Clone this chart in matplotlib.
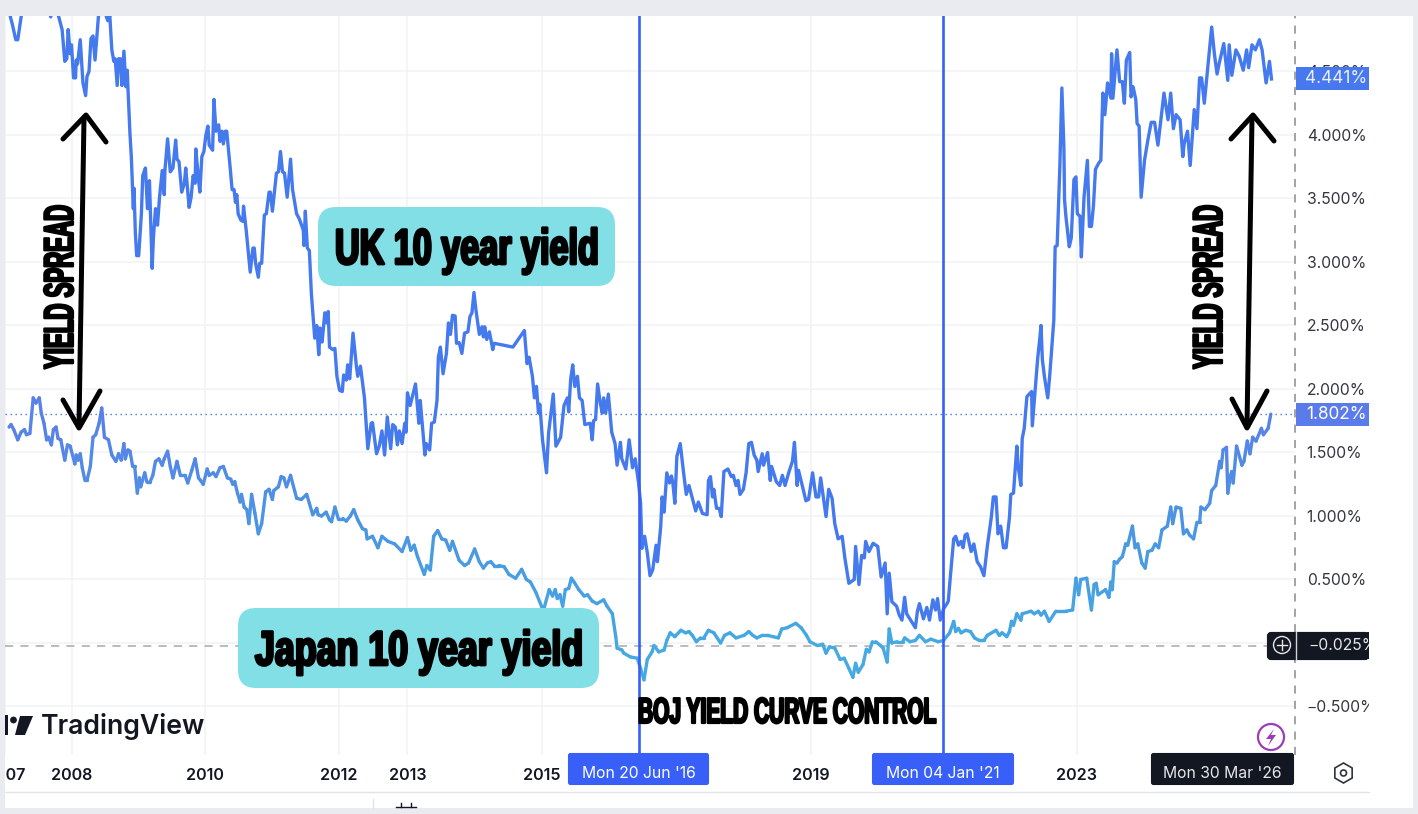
import matplotlib
matplotlib.use("Agg")
import matplotlib.pyplot as plt
import numpy as np
from matplotlib import patheffects
from matplotlib.collections import LineCollection
from matplotlib.colors import LinearSegmentedColormap
from matplotlib.patches import Circle, FancyBboxPatch, Polygon, Rectangle, RegularPolygon
from matplotlib.transforms import Affine2D

# values (year as a decimal, yield in percent)
uk_year = [2007.11, 2007.135, 2007.16, 2007.21, 2007.24, 2007.29, 2007.34, 2007.53, 2007.68, 2007.73, 2007.78,
           2007.85, 2007.90, 2007.94, 2007.97, 2007.99, 2008.02, 2008.04, 2008.07, 2008.10, 2008.11, 2008.13,
           2008.17, 2008.21, 2008.25, 2008.27, 2008.30, 2008.33, 2008.36, 2008.39, 2008.44, 2008.50, 2008.56,
           2008.58, 2008.61, 2008.64, 2008.67, 2008.69, 2008.72, 2008.74, 2008.77, 2008.79, 2008.82, 2008.85,
           2008.87, 2008.88, 2008.91, 2008.93, 2008.96, 2008.97, 2008.99, 2009.01, 2009.04, 2009.08, 2009.10,
           2009.14, 2009.17, 2009.20, 2009.24, 2009.26, 2009.29, 2009.32, 2009.35, 2009.39, 2009.42, 2009.43,
           2009.47, 2009.51, 2009.55, 2009.59, 2009.61, 2009.64, 2009.68, 2009.72, 2009.74, 2009.79, 2009.82,
           2009.85, 2009.88, 2009.89, 2009.93, 2009.95, 2009.98, 2010.01, 2010.04, 2010.07, 2010.09, 2010.14,
           2010.16, 2010.19, 2010.23, 2010.25, 2010.28, 2010.30, 2010.33, 2010.35, 2010.40, 2010.43, 2010.46,
           2010.48, 2010.50, 2010.52, 2010.56, 2010.59, 2010.60, 2010.64, 2010.70, 2010.74, 2010.76, 2010.78,
           2010.82, 2010.84, 2010.87, 2010.91, 2010.94, 2010.98, 2011.00, 2011.03, 2011.09, 2011.12, 2011.15,
           2011.18, 2011.21, 2011.25, 2011.30, 2011.33, 2011.39, 2011.43, 2011.49, 2011.50, 2011.52, 2011.55,
           2011.58, 2011.61, 2011.66, 2011.69, 2011.72, 2011.74, 2011.77, 2011.81, 2011.84, 2011.86, 2011.88,
           2011.93, 2011.96, 2011.99, 2012.03, 2012.07, 2012.09, 2012.13, 2012.15, 2012.18, 2012.23, 2012.28,
           2012.30, 2012.34, 2012.40, 2012.45, 2012.50, 2012.52, 2012.58, 2012.62, 2012.66, 2012.70, 2012.74,
           2012.79, 2012.82, 2012.86, 2012.89, 2012.92, 2012.96, 2013.00, 2013.02, 2013.04, 2013.08, 2013.16,
           2013.21, 2013.23, 2013.30, 2013.32, 2013.37, 2013.40, 2013.44, 2013.48, 2013.50, 2013.53, 2013.57,
           2013.62, 2013.65, 2013.68, 2013.71, 2013.75, 2013.77, 2013.81, 2013.85, 2013.89, 2013.94, 2013.97,
           2014.00, 2014.03, 2014.06, 2014.11, 2014.15, 2014.17, 2014.19, 2014.22, 2014.26, 2014.31, 2014.33,
           2014.61, 2014.78, 2014.82, 2014.85, 2014.90, 2014.93, 2014.96, 2014.99, 2015.01, 2015.05, 2015.11,
           2015.14, 2015.17, 2015.21, 2015.25, 2015.32, 2015.37, 2015.42, 2015.44, 2015.47, 2015.50, 2015.53,
           2015.57, 2015.60, 2015.64, 2015.68, 2015.76, 2015.79, 2015.81, 2015.84, 2015.87, 2015.91, 2015.94,
           2015.96, 2015.99, 2016.03, 2016.08, 2016.13, 2016.16, 2016.21, 2016.23, 2016.29, 2016.34, 2016.39,
           2016.43, 2016.48, 2016.51, 2016.53, 2016.57, 2016.61, 2016.65, 2016.69, 2016.74, 2016.76, 2016.81,
           2016.83, 2016.86, 2016.90, 2016.94, 2016.97, 2016.99, 2017.02, 2017.05, 2017.10, 2017.15, 2017.19,
           2017.23, 2017.28, 2017.33, 2017.37, 2017.43, 2017.50, 2017.52, 2017.55, 2017.58, 2017.60, 2017.64,
           2017.68, 2017.71, 2017.75, 2017.81, 2017.86, 2017.89, 2017.93, 2017.96, 2017.99, 2018.04, 2018.08,
           2018.12, 2018.16, 2018.20, 2018.24, 2018.26, 2018.32, 2018.34, 2018.40, 2018.44, 2018.46, 2018.53,
           2018.58, 2018.62, 2018.66, 2018.72, 2018.77, 2018.80, 2018.84, 2018.86, 2018.93, 2018.97, 2019.01,
           2019.07, 2019.12, 2019.16, 2019.19, 2019.23, 2019.27, 2019.31, 2019.36, 2019.40, 2019.45, 2019.51,
           2019.55, 2019.61, 2019.69, 2019.71, 2019.76, 2019.80, 2019.84, 2019.86, 2019.91, 2019.97, 2020.04,
           2020.09, 2020.15, 2020.18, 2020.21, 2020.25, 2020.32, 2020.36, 2020.40, 2020.44, 2020.47, 2020.54,
           2020.60, 2020.63, 2020.66, 2020.72, 2020.77, 2020.81, 2020.86, 2020.90, 2020.93, 2020.97, 2021.02,
           2021.07, 2021.09, 2021.12, 2021.17, 2021.20, 2021.24, 2021.28, 2021.31, 2021.34, 2021.37, 2021.43,
           2021.47, 2021.52, 2021.57, 2021.62, 2021.67, 2021.73, 2021.76, 2021.80, 2021.83, 2021.87, 2021.91,
           2021.95, 2022.00, 2022.02, 2022.06, 2022.11, 2022.13, 2022.17, 2022.19, 2022.22, 2022.26, 2022.33,
           2022.34, 2022.42, 2022.45, 2022.47, 2022.49, 2022.52, 2022.57, 2022.60, 2022.66, 2022.68, 2022.71,
           2022.75, 2022.78, 2022.81, 2022.82, 2022.84, 2022.89, 2022.92, 2022.96, 2022.99, 2023.01, 2023.05,
           2023.07, 2023.11, 2023.16, 2023.19, 2023.22, 2023.25, 2023.28, 2023.33, 2023.36, 2023.39, 2023.42,
           2023.46, 2023.51, 2023.52, 2023.54, 2023.60, 2023.64, 2023.68, 2023.71, 2023.74, 2023.79, 2023.81,
           2023.84, 2023.88, 2023.90, 2023.93, 2023.96, 2024.01, 2024.06, 2024.11, 2024.16, 2024.21, 2024.30,
           2024.36, 2024.40, 2024.44, 2024.48, 2024.54, 2024.58, 2024.60, 2024.65, 2024.69, 2024.75, 2024.79,
           2024.83, 2024.86, 2024.90, 2024.94, 2024.97, 2025.01, 2025.05, 2025.09, 2025.12, 2025.19, 2025.25,
           2025.27, 2025.31, 2025.37, 2025.42, 2025.48, 2025.53, 2025.56, 2025.61, 2025.66, 2025.72, 2025.76,
           2025.82, 2025.87, 2025.90]
uk_yield = [4.98, 4.92, 4.87, 4.75, 4.75, 4.93, 5.06, 5.09, 5.06, 4.93, 5.04,
            4.93, 4.83, 4.58, 4.60, 4.83, 4.64, 4.71, 4.45, 4.45, 4.59, 4.56,
            4.75, 4.41, 4.31, 4.46, 4.50, 4.76, 4.78, 4.59, 4.93, 5.06, 4.93,
            4.90, 4.94, 4.67, 4.58, 4.60, 4.39, 4.60, 4.60, 4.39, 4.66, 4.38,
            4.51, 4.37, 4.01, 3.83, 3.42, 3.58, 3.23, 3.05, 3.05, 3.38, 3.68,
            3.74, 3.42, 3.64, 2.95, 3.20, 3.42, 3.29, 3.51, 3.72, 3.53, 3.72,
            3.97, 3.71, 3.74, 3.96, 3.81, 3.79, 3.55, 3.62, 3.74, 3.43, 3.51,
            3.68, 3.62, 3.89, 3.65, 3.55, 3.83, 3.87, 4.00, 4.07, 3.92, 3.88,
            4.28, 4.03, 4.08, 3.95, 4.03, 3.93, 4.03, 4.03, 3.75, 3.57, 3.57,
            3.47, 3.53, 3.38, 3.33, 3.32, 3.44, 3.25, 2.92, 3.11, 3.11, 2.99,
            2.88, 2.99, 2.99, 3.37, 3.38, 3.55, 3.55, 3.40, 3.70, 3.71, 3.87,
            3.71, 3.70, 3.51, 3.81, 3.57, 3.38, 3.34, 3.25, 3.13, 3.40, 3.11,
            3.09, 2.75, 2.40, 2.50, 2.27, 2.48, 2.37, 2.60, 2.52, 2.61, 2.33,
            2.31, 2.32, 2.10, 1.99, 1.98, 2.11, 2.07, 2.19, 2.08, 2.44, 2.18,
            2.10, 2.18, 1.93, 1.53, 1.73, 1.735, 1.49, 1.55, 1.67, 1.48, 1.78,
            1.53, 1.72, 1.70, 1.56, 1.67, 1.57, 1.73, 1.66, 1.97, 1.87, 2.04,
            1.73, 1.91, 1.48, 1.57, 1.52, 1.73, 1.74, 1.91, 2.25, 2.33, 2.12,
            2.28, 2.52, 2.43, 2.58, 2.575, 2.36, 2.365, 2.28, 2.44, 2.45, 2.57,
            2.60, 2.76, 2.62, 2.43, 2.49, 2.41, 2.49, 2.39, 2.45, 2.31, 2.36,
            2.33, 2.46, 2.20, 2.25, 2.10, 1.93, 2.02, 1.81, 1.88, 1.60, 1.34,
            1.65, 1.78, 1.96, 1.55, 1.62, 1.87, 1.93, 1.82, 2.08, 2.19, 2.02,
            2.10, 1.93, 1.91, 1.72, 1.73, 1.60, 1.75, 1.76, 2.04, 1.89, 1.81,
            1.93, 1.81, 1.96, 1.66, 1.57, 1.40, 1.58, 1.45, 1.37, 1.60, 1.38,
            1.45, 1.26, 1.10, 0.745, 0.84, 0.71, 0.53, 0.575, 0.77, 0.64, 0.92,
            1.15, 1.03, 1.34, 1.26, 1.315, 1.26, 1.10, 1.47, 1.57, 1.34, 1.17,
            1.24, 1.14, 1.04, 1.11, 1.02, 1.01, 1.28, 1.31, 1.15, 1.21, 1.06,
            1.06, 0.995, 1.35, 1.37, 1.31, 1.32, 1.24, 1.28, 1.17, 1.21, 1.34,
            1.57, 1.58, 1.48, 1.44, 1.35, 1.49, 1.40, 1.50, 1.28, 1.39, 1.27,
            1.24, 1.32, 1.24, 1.35, 1.43, 1.58, 1.24, 1.36, 1.21, 1.12, 1.13,
            1.34, 1.15, 1.15, 1.30, 1.15, 0.995, 1.21, 1.14, 0.94, 0.82, 0.84,
            0.67, 0.47, 0.50, 0.76, 0.46, 0.69, 0.67, 0.80, 0.72, 0.785, 0.76,
            0.52, 0.63, 0.23, 0.55, 0.325, 0.29, 0.22, 0.18, 0.36, 0.23, 0.17,
            0.12, 0.25, 0.31, 0.19, 0.28, 0.18, 0.34, 0.26, 0.35, 0.18, 0.27,
            0.31, 0.33, 0.52, 0.82, 0.84, 0.77, 0.80, 0.75, 0.85, 0.86, 0.72,
            0.78, 0.64, 0.60, 0.53, 0.76, 0.99, 1.15, 1.15, 0.86, 0.92, 0.75,
            0.75, 0.99, 1.17, 1.18, 1.55, 1.39, 1.24, 1.61, 1.69, 1.94, 1.98,
            1.71, 2.24, 2.39, 2.50, 2.23, 2.10, 1.93, 2.11, 2.54, 3.12, 3.13,
            3.75, 4.37, 3.91, 3.49, 3.36, 3.12, 3.19, 3.65, 3.67, 3.38, 3.36,
            3.04, 3.51, 3.80, 3.28, 3.28, 3.44, 3.73, 3.78, 3.80, 4.33, 4.16,
            4.41, 4.29, 4.64, 4.29, 4.67, 4.42, 4.42, 4.25, 4.59, 4.65, 4.30,
            4.38, 4.28, 4.09, 4.07, 3.51, 3.80, 3.96, 4.10, 4.10, 3.92, 4.33,
            4.12, 4.33, 4.05, 4.16, 4.12, 3.83, 3.93, 4.03, 3.76, 4.20, 4.05,
            4.45, 4.45, 4.25, 4.47, 4.63, 4.85, 4.64, 4.48, 4.56, 4.72, 4.43,
            4.71, 4.47, 4.67, 4.62, 4.51, 4.67, 4.53, 4.71, 4.67, 4.75, 4.67,
            4.41, 4.58, 4.441]

japan_year = [2007.11, 2007.14, 2007.18, 2007.24, 2007.29, 2007.34, 2007.37, 2007.42, 2007.47, 2007.51, 2007.56,
              2007.59, 2007.63, 2007.67, 2007.70, 2007.74, 2007.77, 2007.81, 2007.84, 2007.88, 2007.94, 2007.98,
              2008.02, 2008.09, 2008.11, 2008.14, 2008.17, 2008.20, 2008.24, 2008.27, 2008.32, 2008.36, 2008.40,
              2008.45, 2008.49, 2008.53, 2008.59, 2008.64, 2008.70, 2008.74, 2008.78, 2008.82, 2008.84, 2008.88,
              2008.91, 2008.95, 2008.98, 2009.02, 2009.05, 2009.07, 2009.13, 2009.16, 2009.21, 2009.25, 2009.29,
              2009.34, 2009.39, 2009.42, 2009.47, 2009.51, 2009.55, 2009.61, 2009.66, 2009.73, 2009.77, 2009.83,
              2009.88, 2009.93, 2009.96, 2010.00, 2010.06, 2010.09, 2010.15, 2010.19, 2010.25, 2010.30, 2010.36,
              2010.41, 2010.44, 2010.47, 2010.51, 2010.55, 2010.57, 2010.61, 2010.65, 2010.68, 2010.72, 2010.77,
              2010.82, 2010.87, 2010.93, 2010.98, 2011.03, 2011.05, 2011.12, 2011.16, 2011.20, 2011.24, 2011.30,
              2011.36, 2011.39, 2011.46, 2011.54, 2011.58, 2011.63, 2011.69, 2011.71, 2011.76, 2011.83, 2011.88,
              2011.91, 2011.96, 2012.01, 2012.08, 2012.13, 2012.19, 2012.24, 2012.30, 2012.37, 2012.42, 2012.44,
              2012.52, 2012.60, 2012.66, 2012.75, 2012.85, 2012.96, 2013.04, 2013.09, 2013.14, 2013.19, 2013.29,
              2013.33, 2013.38, 2013.43, 2013.49, 2013.55, 2013.61, 2013.67, 2013.71, 2013.81, 2013.89, 2013.95,
              2014.04, 2014.11, 2014.17, 2014.23, 2014.28, 2014.33, 2014.40, 2014.48, 2014.55, 2014.65, 2014.74,
              2014.81, 2014.87, 2014.95, 2015.05, 2015.06, 2015.15, 2015.20, 2015.24, 2015.27, 2015.31, 2015.35,
              2015.39, 2015.44, 2015.48, 2015.52, 2015.59, 2015.67, 2015.72, 2015.79, 2015.86, 2015.96, 2016.01,
              2016.09, 2016.14, 2016.16, 2016.23, 2016.26, 2016.36, 2016.46, 2016.51, 2016.56, 2016.61, 2016.68,
              2016.71, 2016.78, 2016.86, 2016.90, 2016.95, 2017.02, 2017.11, 2017.18, 2017.23, 2017.28, 2017.34,
              2017.40, 2017.45, 2017.52, 2017.60, 2017.70, 2017.76, 2017.84, 2017.93, 2018.05, 2018.12, 2018.18,
              2018.24, 2018.32, 2018.40, 2018.48, 2018.56, 2018.61, 2018.69, 2018.82, 2018.90, 2018.98, 2019.03,
              2019.14, 2019.22, 2019.27, 2019.32, 2019.40, 2019.48, 2019.54, 2019.61, 2019.67, 2019.71, 2019.75,
              2019.82, 2019.87, 2019.91, 2019.96, 2020.01, 2020.08, 2020.12, 2020.18, 2020.21, 2020.25, 2020.33,
              2020.41, 2020.44, 2020.52, 2020.60, 2020.66, 2020.75, 2020.83, 2020.94, 2021.02, 2021.11, 2021.17,
              2021.20, 2021.24, 2021.28, 2021.35, 2021.42, 2021.48, 2021.55, 2021.62, 2021.67, 2021.80, 2021.85,
              2021.89, 2021.96, 2022.00, 2022.03, 2022.06, 2022.11, 2022.17, 2022.19, 2022.32, 2022.37, 2022.43,
              2022.47, 2022.52, 2022.59, 2022.69, 2022.76, 2022.84, 2022.94, 2022.99, 2023.03, 2023.06, 2023.15,
              2023.22, 2023.26, 2023.29, 2023.32, 2023.43, 2023.48, 2023.51, 2023.53, 2023.56, 2023.60, 2023.64,
              2023.68, 2023.73, 2023.76, 2023.83, 2023.87, 2023.91, 2023.97, 2024.02, 2024.06, 2024.12, 2024.17,
              2024.22, 2024.27, 2024.35, 2024.40, 2024.43, 2024.48, 2024.55, 2024.59, 2024.64, 2024.68, 2024.74,
              2024.79, 2024.83, 2024.85, 2024.91, 2024.98, 2025.01, 2025.07, 2025.13, 2025.15, 2025.18, 2025.23,
              2025.25, 2025.29, 2025.31, 2025.33, 2025.38, 2025.46, 2025.49, 2025.54, 2025.58, 2025.62, 2025.67,
              2025.75, 2025.78, 2025.85, 2025.89]
japan_yield = [1.70, 1.72, 1.68, 1.60, 1.66, 1.68, 1.64, 1.65, 1.93, 1.89, 1.93,
               1.81, 1.73, 1.60, 1.62, 1.56, 1.68, 1.70, 1.61, 1.60, 1.44, 1.56,
               1.55, 1.41, 1.48, 1.44, 1.49, 1.38, 1.28, 1.28, 1.39, 1.62, 1.64,
               1.73, 1.85, 1.62, 1.60, 1.48, 1.43, 1.49, 1.44, 1.57, 1.45, 1.52,
               1.51, 1.39, 1.39, 1.18, 1.30, 1.23, 1.34, 1.27, 1.27, 1.32, 1.43,
               1.45, 1.40, 1.45, 1.51, 1.39, 1.30, 1.43, 1.32, 1.32, 1.26, 1.36,
               1.45, 1.30, 1.28, 1.25, 1.37, 1.32, 1.34, 1.31, 1.38, 1.39, 1.30,
               1.29, 1.25, 1.27, 1.18, 1.11, 1.17, 1.07, 1.05, 0.94, 1.17, 1.02,
               0.86, 0.94, 1.19, 1.21, 1.13, 1.20, 1.23, 1.31, 1.30, 1.23, 1.32,
               1.20, 1.14, 1.13, 1.17, 1.10, 1.01, 1.06, 1.01, 1.00, 1.03, 0.97,
               0.955, 1.07, 0.98, 0.98, 0.96, 1.00, 1.05, 0.97, 0.90, 0.89, 0.82,
               0.84, 0.75, 0.84, 0.80, 0.78, 0.72, 0.83, 0.73, 0.77, 0.68, 0.54,
               0.61, 0.575, 0.84, 0.885, 0.82, 0.81, 0.73, 0.80, 0.65, 0.61, 0.63,
               0.74, 0.64, 0.59, 0.63, 0.64, 0.61, 0.61, 0.60, 0.54, 0.51, 0.58,
               0.50, 0.48, 0.40, 0.27, 0.25, 0.42, 0.37, 0.42, 0.35, 0.38, 0.29,
               0.42, 0.43, 0.51, 0.48, 0.42, 0.37, 0.38, 0.33, 0.31, 0.34, 0.29,
               0.23, 0.05, -0.04, -0.055, -0.08, -0.11, -0.12, -0.20, -0.29, -0.13, -0.07,
               -0.02, -0.07, -0.055, 0.02, 0.08, 0.05, 0.10, 0.08, 0.09, 0.06, 0.01,
               0.04, 0.04, 0.10, 0.08, 0.00, 0.06, 0.08, 0.04, 0.06, 0.09, 0.06,
               0.04, 0.06, 0.06, 0.05, 0.04, 0.11, 0.12, 0.155, 0.12, 0.06, 0.01,
               -0.02, -0.01, -0.08, -0.03, -0.04, -0.13, -0.12, -0.20, -0.27, -0.16, -0.23,
               -0.17, -0.05, -0.07, 0.01, 0.01, -0.02, -0.04, -0.15, 0.11, 0.00, 0.01,
               0.01, 0.04, 0.01, 0.02, 0.06, 0.01, 0.03, 0.01, 0.02, 0.08, 0.17,
               0.09, 0.115, 0.08, 0.10, 0.09, 0.04, 0.02, 0.02, 0.06, 0.10, 0.06,
               0.08, 0.05, 0.09, 0.17, 0.14, 0.23, 0.18, 0.23, 0.25, 0.23, 0.25,
               0.22, 0.25, 0.17, 0.25, 0.25, 0.25, 0.26, 0.51, 0.38, 0.50, 0.51,
               0.26, 0.46, 0.47, 0.38, 0.42, 0.36, 0.48, 0.42, 0.64, 0.63, 0.66,
               0.68, 0.78, 0.77, 0.92, 0.75, 0.78, 0.63, 0.59, 0.72, 0.73, 0.78,
               0.75, 0.89, 0.92, 1.07, 0.94, 1.07, 1.06, 0.86, 0.89, 0.85, 0.82,
               0.95, 0.95, 1.07, 1.05, 1.10, 1.20, 1.24, 1.43, 1.38, 1.52, 1.54,
               1.18, 1.32, 1.35, 1.26, 1.55, 1.40, 1.43, 1.59, 1.49, 1.62, 1.59,
               1.69, 1.64, 1.69, 1.802]

y_ticks = [-0.5, 0, 0.5, 1, 1.5, 2, 2.5, 3, 3.5, 4, 4.5]
y_labels = ["\u22120.500%", "", "0.500%", "1.000%", "1.500%", "2.000%", "2.500%", "3.000%", "3.500%", "4.000%", "4.500%"]
# the time axis counts bars, so the year labels sit a little off the calendar
x_ticks = [2007.05, 2008.04, 2010.03, 2012.02, 2013.04, 2015.04, 2019.05, 2023.00]
x_labels = ["2007", "2008", "2010", "2012", "2013", "2015", "2019", "2023"]
event_x = [2016.49, 2021.01]
event_labels = ["Mon 20 Jun '16", "Mon 04 Jan '21"]
uk_last = 4.441
japan_last = 1.802
cursor_y = -0.025
cursor_x = 2026.25

UI_FONT = ["Inter", "DejaVu Sans"]
HEAD_FONT = ["Liberation Sans Narrow", "Liberation Sans"]
BG = "#E9EBF0"
UK_BLUE = "#4579EE"
EVENT_BLUE = "#3860F8"
TEAL = "#82DFE5"
DARK = "#131722"
W, H = 1418, 814


class Squeezed(patheffects.AbstractPathEffect):
    # the poster lettering is a very condensed heavy face, so narrow and fatten a bold one
    def __init__(self, sx, stroke):
        super().__init__()
        self.sx = sx
        self.stroke = stroke

    def draw_path(self, renderer, gc, tpath, affine, rgbFace=None):
        gc0 = renderer.new_gc()
        gc0.copy_properties(gc)
        gc0.set_linewidth(self.stroke)
        gc0.set_foreground("black")
        renderer.draw_path(gc0, tpath, Affine2D().scale(self.sx, 1) + affine, rgbFace)
        gc0.restore()


def pixel_axes(zorder):
    a = fig.add_axes([0, 0, 1, 1], zorder=zorder)
    a.set_xlim(0, W)
    a.set_ylim(H, 0)
    a.axis("off")
    a.patch.set_alpha(0)
    return a


def poster(x, y, s, size, sx, stroke, rotation=0):
    ov.text(x, y, s, fontsize=size, family=HEAD_FONT, fontweight="bold", color="black",
            ha="left", va="baseline", rotation=rotation, rotation_mode="anchor",
            path_effects=[Squeezed(sx, stroke)], zorder=6)


fig = plt.figure(figsize=(W / 100, H / 100), dpi=100, facecolor=BG)
under = pixel_axes(-1)
under.add_patch(Rectangle((5, 16), 1408, 792, fc="white", ec="none"))
under.plot([5, 1369], [792, 792], color="#E0E3EB", lw=1)

ax = fig.add_axes([5 / W, (H - 755) / H, 1290 / W, 739 / H], zorder=1)
ax.patch.set_alpha(0)
ax.set_xlim(2007.11, 2026.25)
ax.set_ylim(-0.882, 4.937)
for s in ax.spines.values():
    s.set_visible(False)
ax.yaxis.tick_right()
ax.set_yticks(y_ticks, y_labels, fontsize=11.3, family=UI_FONT, color="#333640")
ax.set_xticks(x_ticks, x_labels, fontsize=11.6, family=UI_FONT, fontweight="semibold", color=DARK)
ax.tick_params(axis="y", length=0, pad=8.5)
ax.tick_params(axis="x", length=0, pad=9)
ax.grid(color="#F1F2F5", lw=1.1)
ax.set_axisbelow(True)

ax.axhline(japan_last, color=UK_BLUE, lw=1, ls=(0, (1, 2.6)), zorder=1.5)
ax.axhline(cursor_y, color="#B4B5B8", lw=1.3, ls=(0, (4.5, 4)), zorder=1.5)
ax.axvline(cursor_x, color="#9A9CA0", lw=1.3, ls=(0, (4.5, 4)), clip_on=False, zorder=1.5)

ax.plot(uk_year, uk_yield, color=UK_BLUE, lw=2.4, solid_joinstyle="round", zorder=2)

# the Japan line drifts from sky blue at low yields to the UK blue at high ones
japan_pts = np.column_stack([japan_year, japan_yield])
japan_segs = np.stack([japan_pts[:-1], japan_pts[1:]], axis=1)
japan_cmap = LinearSegmentedColormap.from_list("japan", ["#45A9E2", "#4A96E2", "#5A80E8"])
japan_line = LineCollection(japan_segs, cmap=japan_cmap, lw=2.4, capstyle="round", zorder=2)
japan_line.set_array(np.array(japan_yield[:-1]))
japan_line.set_clim(0, 1.8)
ax.add_collection(japan_line)

for xv in event_x:
    ax.axvline(xv, color=EVENT_BLUE, lw=1.9, zorder=3)

ov = pixel_axes(5)

# strips that clip the chart at the panel edges
ov.add_patch(Rectangle((0, 0), 5, H, fc=BG, ec="none", zorder=1))
ov.add_patch(Rectangle((1369, 16), 44, 776, fc="white", ec="none", zorder=1))

# price labels on the right scale
ov.add_patch(Rectangle((1296, 67), 73, 23, fc="#4878EE", ec="none", zorder=2))
ov.text(1336.5, 78.5, f"{uk_last:.3f}%", color="#E8EEFF", fontsize=12.4, family=UI_FONT, ha="center", va="center", zorder=3)
ov.add_patch(Rectangle((1296, 403), 73, 23, fc="#5B7BEA", ec="none", zorder=2))
ov.text(1336.5, 414.5, f"{japan_last:.3f}%", color="white", fontsize=12.4, family=UI_FONT, ha="center", va="center", zorder=3)
ov.add_patch(FancyBboxPatch((1269, 634), 98, 24, boxstyle="round,pad=0,rounding_size=2", fc=DARK, ec=DARK, lw=3, zorder=2))
ov.add_patch(Rectangle((1367, 632), 2, 27, fc=DARK, ec="none", zorder=2))
ov.add_patch(Circle((1282, 645), 8.5, fc="none", ec="#E6E7EA", lw=1, zorder=3))
ov.plot([1277, 1287], [645, 645], color="#E6E7EA", lw=1, zorder=3)
ov.plot([1282, 1282], [640, 650], color="#E6E7EA", lw=1, zorder=3)
ov.plot([1295.5, 1295.5], [632, 659], color="#D0D2D6", lw=1, zorder=3)
ov.text(1308, 645.5, f"\u2212{abs(cursor_y):.3f}%", color="#E6E7EA", fontsize=11.3, family=UI_FONT, ha="left", va="center", zorder=3)
ov.add_patch(Rectangle((1369, 625), 44, 40, fc="white", ec="none", zorder=4))

# date labels on the time scale
for x0, x1, label in zip([568, 872], [709, 1014], event_labels):
    ov.add_patch(FancyBboxPatch((x0 + 1, 754), x1 - x0 - 2, 30, boxstyle="round,pad=0,rounding_size=1.5", fc=EVENT_BLUE, ec=EVENT_BLUE, lw=1.5, zorder=2))
    ov.text((x0 + x1) / 2, 773, label, color="white", fontsize=11.3, family=UI_FONT, ha="center", va="center", zorder=3)
ov.add_patch(FancyBboxPatch((1152, 754), 141, 30, boxstyle="round,pad=0,rounding_size=1.5", fc=DARK, ec=DARK, lw=1.5, zorder=2))
ov.text(1222, 773, "Mon 30 Mar '26", color="#E6E7EA", fontsize=11.3, family=UI_FONT, ha="center", va="center", zorder=3)

# TradingView badge and settings icons
ov.add_patch(Rectangle((5, 715), 3, 20, fc=DARK, ec="none", zorder=2))
ov.add_patch(Circle((13.5, 720), 3.4, fc=DARK, ec="none", zorder=2))
ov.add_patch(Polygon([[20, 716], [33, 716], [25, 735], [15, 735]], fc=DARK, ec="none", zorder=2))
ov.text(41, 727, "TradingView", color=DARK, fontsize=19.2, family=UI_FONT, fontweight="semibold", ha="left", va="center", zorder=3)
ov.add_patch(Circle((1271, 737), 13, fc="white", ec="#9C3DB8", lw=1.6, zorder=2))
ov.add_patch(Polygon([[1274, 729], [1266, 739], [1271, 739], [1268, 746], [1276, 735], [1271, 735]], fc="#9C3DB8", ec="none", zorder=3))
ov.add_patch(RegularPolygon((1343.5, 773), 6, radius=10, fc="none", ec="#30333C", lw=1.2, zorder=3))
ov.add_patch(Circle((1343.5, 773), 3, fc="none", ec="#30333C", lw=1.2, zorder=3))
ov.plot([373, 373], [799, 808], color="#E0E3EB", lw=1, zorder=2)
ov.plot([396, 416], [807, 807], color=DARK, lw=1, zorder=2)
ov.plot([401, 401], [803, 807], color=DARK, lw=1, zorder=2)
ov.plot([411, 411], [803, 807], color=DARK, lw=1, zorder=2)

# poster annotations on top of the screenshot
ov.add_patch(FancyBboxPatch((318 + 18, 207 + 18), 297 - 36, 79 - 36, boxstyle="round,pad=18,rounding_size=18", fc=TEAL, ec="none", zorder=4.6))
ov.add_patch(FancyBboxPatch((238 + 18, 608 + 18), 361 - 36, 80 - 36, boxstyle="round,pad=18,rounding_size=18", fc=TEAL, ec="none", zorder=4.6))
poster(335, 264, "UK 10 year yield", 36, 0.683, 2.0)
poster(255, 665, "Japan 10 year yield", 35, 0.736, 2.0)
poster(638, 723, "BOJ YIELD CURVE CONTROL", 26, 0.58, 1.6)
poster(73, 369, "YIELD SPREAD", 30, 0.533, 1.6, rotation=90)
poster(1222, 369, "YIELD SPREAD", 30, 0.533, 1.6, rotation=90)

arrow_kw = dict(color="black", lw=3.6, solid_capstyle="round", solid_joinstyle="round", zorder=5)
ov.plot([84, 79], [118, 425], **arrow_kw)
ov.plot([63, 86, 106], [139, 115, 142], **arrow_kw)
ov.plot([63, 79, 100], [400, 428, 391], **arrow_kw)
ov.plot([1252, 1247], [118, 425], **arrow_kw)
ov.plot([1231, 1253, 1274], [139, 115, 141], **arrow_kw)
ov.plot([1232, 1247, 1267], [399, 428, 391], **arrow_kw)

fig.savefig("out.png", dpi=100, facecolor=BG)
